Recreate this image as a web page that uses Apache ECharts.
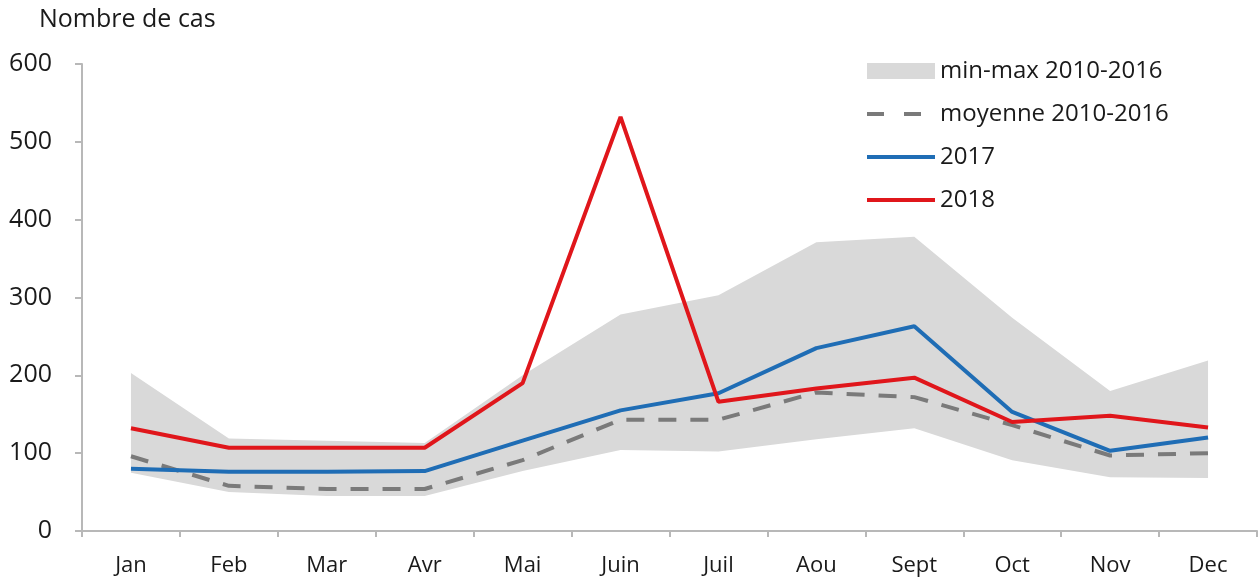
<!DOCTYPE html>
<html>
<head>
<meta charset="utf-8">
<script src="https://cdn.jsdelivr.net/npm/echarts@6/dist/echarts.min.js"></script>
<style>
  html, body { margin: 0; padding: 0; background: #fff; }
  #chart { width: 1260px; height: 581px; }
</style>
</head>
<body>
<div id="chart"></div>
<script>
// mois
var months = ['Jan', 'Feb', 'Mar', 'Avr', 'Mai', 'Juin', 'Juil', 'Aou', 'Sept', 'Oct', 'Nov', 'Dec'];
// min / max 2010-2016
var minVals = [75, 50, 45, 45, 77, 104, 102, 118, 132, 91, 69, 68];
var maxVals = [203, 119, 116, 113, 200, 278, 303, 371, 378, 274, 180, 219];
// moyenne 2010-2016
var meanVals = [96, 58, 54, 54, 91, 143, 143, 178, 172, 136, 97, 100];
var y2017 = [80, 76, 76, 77, 116, 155, 177, 235, 263, 153, 103, 120];
var y2018 = [132, 107, 107, 107, 190, 532, 166, 183, 197, 140, 148, 133];
var yTicks = [0, 100, 200, 300, 400, 500, 600];

var font = '"Open Sans", sans-serif';
var bandSpan = maxVals.map(function (v, i) { return v - minVals[i]; });

var chart = echarts.init(document.getElementById('chart'));
chart.setOption({
  animation: false,
  title: {
    text: 'Nombre de cas',
    left: 34,
    top: 2,
    textStyle: { fontFamily: font, fontSize: 25, fontWeight: 'normal', color: '#1a1a1a' }
  },
  legend: {
    orient: 'vertical',
    left: 860,
    top: 54,
    itemWidth: 68,
    itemHeight: 16,
    itemGap: 19,
    textStyle: { fontFamily: font, fontSize: 24, color: '#1a1a1a' },
    lineStyle: { width: 4 },
    data: [
      { name: 'min-max 2010-2016', icon: 'rect' },
      { name: 'moyenne 2010-2016', itemStyle: { opacity: 0 }, lineStyle: { type: [17, 20] } },
      { name: '2017', itemStyle: { opacity: 0 } },
      { name: '2018', itemStyle: { opacity: 0 } }
    ]
  },
  grid: { left: 82, right: 3, top: 64, bottom: 50 },
  xAxis: {
    type: 'category',
    data: months,
    boundaryGap: true,
    axisLine: { lineStyle: { color: '#b8b8b8', width: 2 } },
    axisTick: { show: true, length: 6, lineStyle: { color: '#b8b8b8', width: 2 } },
    axisLabel: { fontFamily: font, fontSize: 22, color: '#1a1a1a', margin: 24 }
  },
  yAxis: {
    type: 'value',
    min: yTicks[0],
    max: yTicks[yTicks.length - 1],
    interval: 100,
    splitLine: { show: false },
    axisLine: { show: true, lineStyle: { color: '#b8b8b8', width: 2 } },
    axisTick: { show: true, length: 7, lineStyle: { color: '#b8b8b8', width: 2 } },
    axisLabel: { fontFamily: font, fontSize: 25, color: '#1a1a1a', margin: 30 }
  },
  series: [
    {
      name: 'base',
      type: 'line',
      stack: 'band',
      data: minVals,
      symbol: 'none',
      lineStyle: { opacity: 0 },
      silent: true
    },
    {
      name: 'min-max 2010-2016',
      type: 'line',
      stack: 'band',
      data: bandSpan,
      symbol: 'none',
      itemStyle: { color: '#d9d9d9' },
      lineStyle: { opacity: 0 },
      areaStyle: { color: '#d9d9d9', opacity: 1 },
      silent: true
    },
    {
      name: 'moyenne 2010-2016',
      type: 'line',
      data: meanVals,
      symbol: 'none',
      itemStyle: { color: '#7a7a7a' },
      lineStyle: { color: '#7a7a7a', width: 4, type: [18, 14] }
    },
    {
      name: '2017',
      type: 'line',
      data: y2017,
      symbol: 'none',
      itemStyle: { color: '#1f6db5' },
      lineStyle: { color: '#1f6db5', width: 4 }
    },
    {
      name: '2018',
      type: 'line',
      data: y2018,
      symbol: 'none',
      itemStyle: { color: '#e0161b' },
      lineStyle: { color: '#e0161b', width: 4 }
    }
  ]
});
</script>
</body>
</html>
